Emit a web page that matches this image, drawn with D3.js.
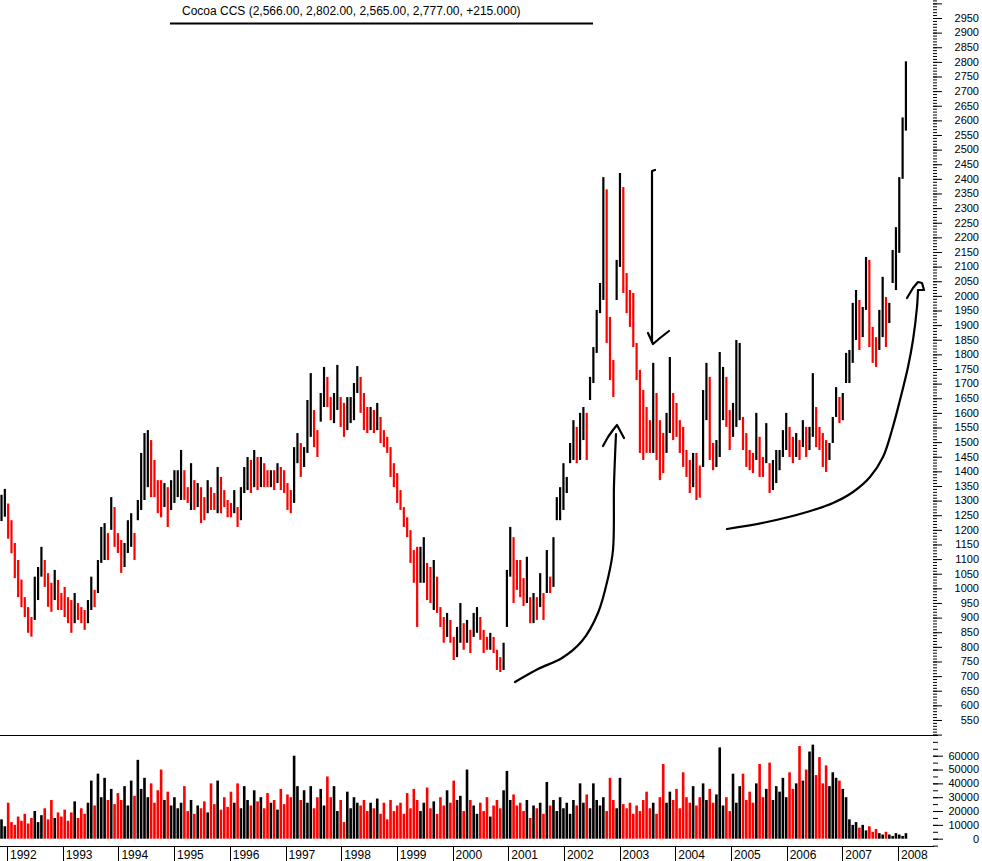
<!DOCTYPE html>
<html><head><meta charset="utf-8">
<script src="https://cdn.jsdelivr.net/npm/d3@7"></script>
<style>body{margin:0;background:#fff;} svg{display:block;font-family:"Liberation Sans",Arial,sans-serif;}</style>
</head><body><svg id="c" width="982" height="861"></svg>
<script>
// ---------- data ----------
const title = "Cocoa CCS (2,566.00, 2,802.00, 2,565.00, 2,777.00, +215.000)";
const firstDate = "1991-11-26", lastDate = "2008-02-22";
const years = [1992,1993,1994,1995,1996,1997,1998,1999,2000,2001,2002,2003,2004,2005,2006,2007,2008];
const priceLabels = d3.range(550, 2951, 50);
const volumeLabels = [0,10000,20000,30000,40000,50000,60000];
// price range of each bar (high / low), oldest first
const high = [1320,1340,1290,1233,1155,1097,1030,970,936,902,
1040,1073,1142,1097,1052,1019,1063,1029,984,1005,
970,960,984,950,936,926,960,1040,995,1097,
1210,1223,1189,1312,1278,1189,1165,1155,1233,1257,
1189,1302,1463,1531,1541,1507,1439,1370,1370,1360,
1346,1370,1404,1404,1473,1404,1346,1428,1370,1360,
1346,1312,1370,1346,1326,1415,1381,1336,1302,1292,
1336,1278,1346,1415,1449,1439,1473,1449,1449,1428,
1404,1404,1404,1428,1415,1404,1360,1336,1483,1531,
1497,1483,1644,1736,1610,1541,1668,1757,1723,1654,
1668,1764,1654,1634,1654,1654,1702,1760,1723,1668,
1620,1620,1610,1634,1586,1541,1518,1483,1428,1394,
1336,1278,1243,1199,1131,1142,1142,1175,1087,1073,
1097,1040,936,902,916,892,834,868,950,881,
892,858,916,936,902,858,834,848,834,790,
765,814,1063,1210,1175,1097,1097,1035,1108,970,
984,970,1052,984,1131,1040,1175,1312,1346,1428,
1381,1497,1575,1552,1600,1620,1600,1723,1825,1952,
2044,2406,2364,1928,1781,2123,2420,2372,2078,2020,
2010,1839,1747,1678,1620,1575,1771,1668,1575,1531,
1600,1791,1668,1634,1575,1552,1473,1439,1463,1463,
1420,1678,1771,1723,1497,1507,1808,1757,1723,1610,
1634,1849,1839,1586,1531,1473,1463,1600,1518,1449,
1565,1428,1439,1473,1473,1541,1600,1552,1518,1531,
1507,1575,1552,1552,1736,1620,1552,1531,1507,1497,
1586,1688,1654,1668,1805,1815,1976,2020,1986,1962,
2133,2123,1894,1859,1952,2065,1996,1976,2157,2235,
2406,2610,2802];
const low = [1230,1245,1170,1120,1035,970,936,902,848,835,
892,960,1040,1005,937,920,960,926,926,902,
881,848,881,892,881,858,881,926,936,984,
1087,1097,1097,1200,1142,1121,1053,1073,1121,1142,
1097,1233,1268,1302,1346,1312,1312,1257,1243,1278,
1210,1268,1292,1312,1302,1302,1292,1268,1268,1278,
1223,1233,1257,1268,1268,1257,1257,1278,1243,1243,
1257,1210,1233,1326,1336,1326,1346,1336,1346,1346,
1346,1346,1336,1360,1336,1326,1268,1257,1292,1428,
1381,1415,1463,1518,1483,1449,1570,1620,1620,1575,
1565,1610,1552,1518,1541,1565,1575,1668,1600,1541,
1531,1541,1531,1541,1497,1483,1463,1381,1346,1292,
1268,1210,1175,1087,1019,868,1019,1019,960,950,
926,916,868,814,834,814,755,765,814,790,
814,779,834,848,824,779,790,790,779,721,
714,721,868,1040,950,995,970,940,950,881,
881,892,936,892,984,984,1005,1233,1233,1268,
1326,1428,1439,1428,1439,1507,1439,1644,1702,1805,
1941,1986,1839,1712,1654,1986,2099,2010,1941,1894,
1825,1712,1463,1439,1463,1463,1463,1439,1370,1394,
1463,1531,1507,1518,1463,1415,1381,1326,1346,1302,
1310,1415,1575,1439,1404,1415,1449,1575,1552,1473,
1518,1552,1575,1473,1415,1404,1394,1439,1381,1381,
1428,1326,1336,1360,1404,1449,1473,1449,1428,1449,
1439,1483,1449,1473,1518,1483,1473,1415,1398,1439,
1497,1586,1565,1575,1702,1702,1771,1849,1815,1859,
1952,1825,1771,1757,1815,1859,1825,1907,2044,2020,
2147,2400,2565];
// volume of each bar, in thousands of contracts
const volume = [14,9,26,12,10,16, 13,18,11,15,20,12, 17,22,14,28,15,19, 16,21,13,19,27,15,
22,18,26,42,24,47, 30,44,28,36,25,33, 28,38,24,42,31,57, 36,44,30,40,26,35,
50,28,34,24,30,22, 26,38,20,28,18,24,
22,27,19,40,25,42,21,30,23, 34,26,40,22,38,28,24,35,27, 30,22,33,26,28,21,36,25,32, 30,60,38,
28,35,26,38,22,30, 36,24,45,30,38,20, 28,12,34,22,30,26, 24,28,20,26,22,29,
18,26,14,28,20,24, 26,18,33,22,36,28, 20,26,37,22,27,18, 30,24,35,26,42,28,
31,20,50,28,24,18, 26,20,30,16,24,28, 22,35,49,28,32,24, 26,20,28,15,24,22,
26,18,41,24,28,20, 30,22,26,18,28,24, 40,26,32,22,40,28, 24,30,20,44,28,22,
44,25,22,26,18,24, 20,28,34,22,26,18, 30,54,26,34,28,36, 22,48,30,26,38,24,
30,40,28,36,26,32, 66,24,30,20,47,26, 38,47,28,34,26,40, 54,30,36,55,28,38,
34,44,30,48,36,40, 67,42,50,63,68,46, 59,40,53,38,48,44, 42,36,30,
14,10,12, 8,10,6,9,5,7, 4,3,5,3,2,4, 3,2,4];
// hand-drawn annotation strokes (screen-space sketch)
const sketch1 = [[515,682],[538,669],[562,658],[582,641],[598,613],[608,578],[613,550],[614,485],[616,434]];
const sketch1Head = [[603,446],[608,437],[613,430],[617,425],[624,438]];
const sketch2 = [[655,170],[652,171],[652,342]];
const sketch2Head = [[648,333],[653,344],[660,338],[669,331]];
const sketch3 = [[727,529],[767,522],[807,512],[833,503],[853,492],[870,477],[883,457],[892,430],[900,400],[908,367],[913,340],[917,307],[918,290]];
const sketch3Head = [[907,298],[913,288],[918,282],[922,283],[924,290],[918,290]];

// ---------- drawing ----------
const svg = d3.select("#c");
const n = Math.min(high.length, low.length, volume.length);
const parse = d3.utcParse("%Y-%m-%d");
const xTime = d3.scaleUtc().domain([parse("1992-01-01"), parse("2008-01-01")]).range([7, 898]);
const x0 = xTime(parse(firstDate)), x1 = xTime(parse(lastDate));
const xBar = d3.scaleLinear().domain([0, n - 1]).range([x0, x1]);
const yP = d3.scaleLinear().domain([500, 2950]).range([734.6, 18]);
const yV = d3.scaleLinear().domain([0, 60]).range([838.7, 755.7]);
const RED = "#ff0000", BLK = "#000000";
const bars = d3.range(n).map(i => ({i, h: high[i], l: low[i], v: volume[i]}));
bars.forEach((b, i) => {
  const mid = (b.h + b.l) / 2;
  const prev = i > 0 ? (bars[i-1].h + bars[i-1].l) / 2 : mid;
  b.c = mid < prev ? RED : BLK;
});

// panels frame lines
svg.append("line").attr("x1", 0).attr("x2", 934).attr("y1", 735.5).attr("y2", 735.5).attr("stroke", "#000");
svg.append("line").attr("x1", 0).attr("x2", 934).attr("y1", 846.5).attr("y2", 846.5).attr("stroke", "#000");

// price bars
svg.append("g").selectAll("line").data(bars).join("line")
  .attr("x1", d => xBar(d.i)).attr("x2", d => xBar(d.i))
  .attr("y1", d => yP(d.h)).attr("y2", d => yP(d.l))
  .attr("stroke", d => d.c).attr("stroke-width", 2.2);

// volume bars
svg.append("g").selectAll("rect").data(bars).join("rect")
  .attr("x", d => xBar(d.i) - 1.3).attr("width", 2.6)
  .attr("y", d => yV(d.v)).attr("height", d => yV(0) - yV(d.v))
  .attr("fill", d => d.c);

// price axis (right)
const gPA = svg.append("g").attr("transform", "translate(933,0)");
gPA.call(d3.axisRight(yP).tickValues(d3.range(500, 3011, 10)).tickSize(4).tickFormat(""));
gPA.append("g").call(d3.axisRight(yP).tickValues(d3.range(500, 3011, 50)).tickSize(9).tickFormat(""));
gPA.selectAll(".domain").remove();
gPA.selectAll("line").attr("stroke", "#000");
svg.append("g").selectAll("text").data(priceLabels).join("text")
  .attr("x", 979).attr("y", d => yP(d)).attr("dy", "0.35em")
  .attr("text-anchor", "end").attr("font-size", 11).text(d => d);

// volume axis (right)
const gVA = svg.append("g").attr("transform", "translate(933,0)");
gVA.call(d3.axisRight(yV).tickValues(d3.range(-5, 76, 5)).tickSize(5).tickFormat(""));
gVA.append("g").call(d3.axisRight(yV).tickValues(volumeLabels.map(v => v / 1000)).tickSize(10).tickFormat(""));
gVA.selectAll(".domain").remove();
gVA.selectAll("line").attr("stroke", "#000");
svg.append("g").selectAll("text").data(volumeLabels).join("text")
  .attr("x", 979).attr("y", d => yV(d / 1000)).attr("dy", "0.35em")
  .attr("text-anchor", "end").attr("font-size", 11).text(d => d);

// time axis
const gX = svg.append("g");
gX.selectAll("line").data(years).join("line")
  .attr("x1", d => Math.round(xTime(parse(d + "-01-01"))) + 0.5)
  .attr("x2", d => Math.round(xTime(parse(d + "-01-01"))) + 0.5)
  .attr("y1", 846).attr("y2", 861).attr("stroke", "#000");
gX.selectAll("text").data(years).join("text")
  .attr("x", d => xTime(parse(d + "-01-01")) + 3).attr("y", 859)
  .attr("font-size", 12).text(d => d);

// title
svg.append("text").attr("x", 182).attr("y", 15).attr("font-size", 12).text(title);
svg.append("line").attr("x1", 170).attr("x2", 593).attr("y1", 23.5).attr("y2", 23.5)
  .attr("stroke", "#000").attr("stroke-width", 2);

// annotations
const lineC = d3.line().curve(d3.curveCatmullRom);
const lineL = d3.line();
const gA = svg.append("g").attr("fill", "none").attr("stroke", "#000").attr("stroke-width", 2.2)
  .attr("stroke-linejoin", "round").attr("stroke-linecap", "round");
gA.append("path").attr("d", lineC(sketch1));
gA.append("path").attr("d", lineL(sketch1Head));
gA.append("path").attr("d", lineL(sketch2));
gA.append("path").attr("d", lineL(sketch2Head));
gA.append("path").attr("d", lineC(sketch3));
gA.append("path").attr("d", lineL(sketch3Head));
</script></body></html>
